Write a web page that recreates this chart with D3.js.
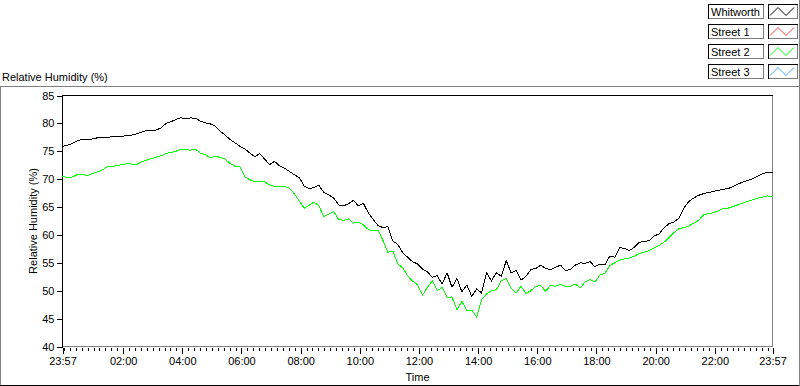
<!DOCTYPE html>
<html>
<head>
<meta charset="utf-8">
<script src="https://cdn.jsdelivr.net/npm/d3@7"></script>
<style>
  body { margin: 0; background: #fff; }
  svg { display: block; font-family: "Liberation Sans", Arial, sans-serif; font-size: 11px; }
</style>
</head>
<body>
<div id="chart"></div>
<script>
// readings every 10 minutes starting 23:57
const stepMinutes = 10;
const whitworth = [
  75.9, 76.1, 76.4, 76.9, 77.1, 77.1, 77.2, 77.4, 77.5, 77.5,
  77.6, 77.6, 77.7, 77.8, 77.9, 78.1, 78.4, 78.7, 78.8, 78.8,
  79.2, 80.0, 80.3, 80.7, 81.0, 80.8, 81.0, 80.9, 80.4, 80.1,
  79.9, 79.5, 78.6, 77.9, 77.1, 76.5, 75.9, 75.4, 74.7, 74.0,
  74.6, 73.6, 72.6, 73.2, 72.4, 72.0, 71.4, 70.8, 70.3, 68.8,
  68.3, 68.5, 68.9, 67.6, 67.2, 66.6, 65.4, 65.2, 65.6, 66.2,
  65.2, 65.7, 64.0, 62.8, 61.7, 61.3, 61.5, 58.9, 58.3, 56.8,
  56.0, 55.2, 54.8, 53.9, 53.4, 52.4, 52.7, 51.2, 53.2, 50.6,
  52.2, 49.8, 51.0, 49.0, 50.3, 49.6, 53.2, 51.8, 53.2, 52.6,
  55.4, 53.2, 53.6, 51.9, 52.6, 53.8, 54.0, 54.6, 54.0, 53.8,
  54.2, 54.6, 53.6, 53.8, 54.6, 55.0, 54.9, 55.2, 54.3, 54.8,
  54.6, 56.2, 56.0, 57.7, 57.6, 57.2, 57.8, 58.7, 58.8, 59.0,
  59.8, 60.2, 61.3, 62.0, 62.3, 63.0, 64.8, 66.0, 66.6, 67.1,
  67.4, 67.6, 67.8, 68.0, 68.2, 68.3, 68.7, 69.1, 69.5, 69.8,
  70.1, 70.5, 71.0, 71.2, 71.2
];
const street2 = [
  70.5, 70.3, 70.4, 70.8, 70.9, 70.6, 71.0, 71.3, 71.6, 72.2,
  72.3, 72.4, 72.6, 72.8, 72.7, 72.6, 73.1, 73.4, 73.7, 73.9,
  74.2, 74.6, 74.8, 75.0, 75.4, 75.3, 75.2, 75.4, 74.6, 74.4,
  73.8, 74.1, 73.9, 73.6, 72.8, 72.3, 72.2, 70.4, 69.9, 69.5,
  69.5, 69.5, 69.0, 68.7, 68.7, 68.7, 68.4, 67.4, 66.1, 64.8,
  65.3, 65.9, 65.2, 63.3, 63.7, 64.2, 62.8, 62.6, 62.9, 62.1,
  62.3, 61.8, 61.0, 60.7, 60.9, 59.0, 56.9, 57.1, 54.8, 54.1,
  52.7, 51.7, 51.1, 49.2, 50.6, 51.8, 50.0, 50.6, 48.8, 48.9,
  46.6, 48.1, 46.5, 46.5, 45.3, 48.4, 49.4, 50.0, 50.2, 51.8,
  52.2, 50.5, 49.6, 50.8, 49.5, 50.0, 50.8, 50.9, 49.9, 51.0,
  50.8, 51.1, 50.8, 50.8, 51.2, 50.5, 51.6, 52.0, 51.6, 52.8,
  53.1, 54.5, 55.0, 55.5, 55.7, 55.9, 56.2, 56.7, 56.9, 57.2,
  57.7, 58.1, 58.7, 59.5, 60.4, 61.1, 61.3, 61.6, 62.1, 62.6,
  63.6, 63.8, 64.0, 64.3, 64.8, 64.8, 65.1, 65.4, 65.7, 66.0,
  66.3, 66.6, 66.8, 67.0, 66.8
];
const legendNames = ['Whitworth', 'Street 1', 'Street 2', 'Street 3'];
const legendColors = ['#000000', '#ff3c3c', '#00ff00', '#40a8ff'];
const yTicks = [40, 45, 50, 55, 60, 65, 70, 75, 80, 85];
const xTickLabels = ['23:57', '02:00', '04:00', '06:00', '08:00', '10:00', '12:00',
  '14:00', '16:00', '18:00', '20:00', '22:00', '23:57'];

const width = 800, height = 386;
const margin = { top: 95.5, left: 62.5, right: 772.5, bottom: 346.5 };

const t0 = new Date(2000, 0, 1, 23, 57);
const t1 = new Date(2000, 0, 2, 23, 57);
const timeAt = (i) => new Date(t0.getTime() + i * stepMinutes * 60000);

// major ticks: both ends plus every 2 hours; minor every 12 minutes
const majorTicks = [t0];
for (let h = 2; h <= 22; h += 2) majorTicks.push(new Date(2000, 0, 2, h, 0));
majorTicks.push(t1);
const minorTicks = d3.timeMinute.every(12).range(new Date(2000, 0, 2, 0, 0), t1);

const x = d3.scaleTime().domain([t0, t1]).range([margin.left, margin.right]);
const y = d3.scaleLinear().domain([40, 85]).range([margin.bottom, margin.top]);

const svg = d3.select('#chart').append('svg')
  .attr('width', width)
  .attr('height', height)
  .attr('shape-rendering', 'crispEdges');

// outer frame
svg.append('line').attr('x1', 0).attr('x2', 800).attr('y1', 86.5).attr('y2', 86.5).attr('stroke', '#808080');
svg.append('line').attr('x1', 0.5).attr('x2', 0.5).attr('y1', 86.5).attr('y2', 385.5).attr('stroke', '#808080');
svg.append('line').attr('x1', 0).attr('x2', 800).attr('y1', 385.5).attr('y2', 385.5).attr('stroke', '#000');
svg.append('line').attr('x1', 799.5).attr('x2', 799.5).attr('y1', 0).attr('y2', 386).attr('stroke', '#808080');

svg.append('text')
  .attr('x', 2)
  .attr('y', 81)
  .text('Relative Humidity (%)');

// legend
const legend = svg.append('g').attr('id', 'legend');
legendNames.forEach((name, i) => {
  const top = 4.5 + i * 20;
  const g = legend.append('g').attr('transform', 'translate(0,' + top + ')');
  [[708.5, 55], [768.5, 29]].forEach(([bx, bw]) => {
    g.append('path')
      .attr('d', 'M' + bx + ',14V0H' + (bx + bw))
      .attr('fill', 'none').attr('stroke', '#000');
    g.append('path')
      .attr('d', 'M' + (bx + bw) + ',0V14H' + bx)
      .attr('fill', 'none').attr('stroke', '#7a7a7a');
  });
  g.append('text').attr('x', 711).attr('y', 11.5).text(name);
  g.append('path')
    .attr('d', 'M770,11L778,3L786,11L794,3')
    .attr('fill', 'none')
    .attr('stroke', legendColors[i])
    .attr('shape-rendering', 'auto');
});

// plot frame
svg.append('path')
  .attr('d', 'M' + margin.left + ',' + margin.bottom + 'V' + margin.top + 'H' + margin.right)
  .attr('fill', 'none').attr('stroke', '#000');
svg.append('path')
  .attr('d', 'M' + margin.right + ',' + margin.top + 'V' + margin.bottom + 'H' + margin.left)
  .attr('fill', 'none').attr('stroke', '#808080');

// axes
const yAxis = svg.append('g')
  .attr('id', 'y-axis')
  .attr('transform', 'translate(' + margin.left + ',0)')
  .call(d3.axisLeft(y).tickValues(yTicks).tickSize(6).tickPadding(2));
yAxis.select('.domain').remove();

const xAxis = svg.append('g')
  .attr('id', 'x-axis')
  .attr('transform', 'translate(0,' + (margin.bottom + 1) + ')')
  .call(d3.axisBottom(x).tickValues(majorTicks).tickSize(6).tickPadding(4)
    .tickFormat((d, i) => xTickLabels[i]));
xAxis.select('.domain').remove();

const xMinor = svg.append('g')
  .attr('id', 'x-minor')
  .attr('transform', 'translate(0,' + (margin.bottom + 1) + ')')
  .call(d3.axisBottom(x).tickValues(minorTicks).tickSize(3).tickFormat(''));
xMinor.select('.domain').remove();

svg.selectAll('.tick text')
  .attr('font-family', '"Liberation Sans", Arial, sans-serif')
  .attr('font-size', 11)
  .attr('fill', '#000');

svg.append('text')
  .attr('x', (margin.left + margin.right) / 2)
  .attr('y', 381)
  .attr('text-anchor', 'middle')
  .text('Time');

svg.append('text')
  .attr('transform', 'translate(37,' + ((margin.top + margin.bottom) / 2) + ') rotate(-90)')
  .attr('text-anchor', 'middle')
  .text('Relative Humidity (%)');

// series
const line = d3.line()
  .x((d, i) => x(timeAt(i)))
  .y((d) => y(d));

const plotted = [[street2, legendColors[2]], [whitworth, legendColors[0]]];
svg.append('g')
  .attr('id', 'series')
  .selectAll('path')
  .data(plotted)
  .enter().append('path')
  .attr('d', (d) => line(d[0]))
  .attr('fill', 'none')
  .attr('stroke', (d) => d[1])
  .attr('stroke-width', 1);
</script>
</body>
</html>
